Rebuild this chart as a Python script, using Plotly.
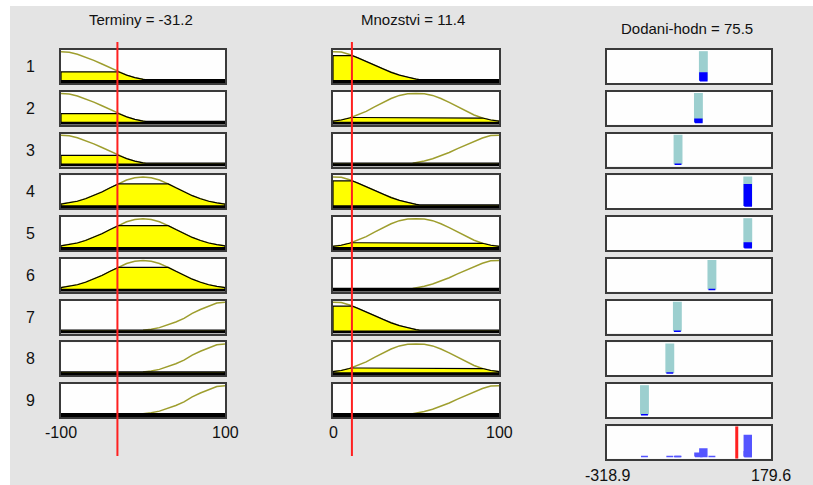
import plotly.graph_objects as go

W, H = 813, 485

# ---- inputs / output of the fuzzy inference system ----
TERMINY = -31.2
MNOZSTVI = 11.4
DODANI = 75.5
terminy_range = [-100, 100]
mnozstvi_range = [0, 100]
dodani_range = [-318.9, 179.6]

# membership functions of "Terminy" (low / medium / high)
terminy_low_x = [-100, -90, -80, -70, -60, -50, -40, -30, -20, -10, 0, 3]
terminy_low_y = [1.0, 0.98, 0.91, 0.81, 0.69, 0.56, 0.42, 0.28, 0.16, 0.07, 0.01, 0.0]
terminy_med_x = [-100, -90, -80, -70, -60, -50, -40, -30, -20, -10, 0,
                 10, 20, 30, 40, 50, 60, 70, 80, 90, 100]
terminy_med_y = [0.03, 0.07, 0.13, 0.22, 0.33, 0.46, 0.61, 0.76, 0.89, 0.97, 1.0,
                 0.97, 0.89, 0.76, 0.61, 0.46, 0.33, 0.22, 0.13, 0.07, 0.03]
terminy_high_x = [0, 10, 20, 30, 40, 50, 60, 70, 80, 90, 100]
terminy_high_y = [0.0, 0.03, 0.09, 0.19, 0.29, 0.42, 0.6, 0.74, 0.86, 0.97, 1.0]

# membership functions of "Mnozstvi" (low / medium / high)
mnozstvi_low_x = [0, 5, 10, 15, 20, 25, 30, 35, 40, 45, 50, 52]
mnozstvi_low_y = [1.0, 0.99, 0.9, 0.78, 0.65, 0.52, 0.38, 0.26, 0.16, 0.08, 0.02, 0.0]
mnozstvi_med_x = [0, 5, 10, 15, 20, 25, 30, 35, 40, 45, 50,
                  55, 60, 65, 70, 75, 80, 85, 90, 95, 100]
mnozstvi_med_y = [0.01, 0.05, 0.12, 0.23, 0.36, 0.52, 0.68, 0.82, 0.93, 0.99, 1.0,
                  0.99, 0.93, 0.82, 0.68, 0.52, 0.36, 0.23, 0.12, 0.05, 0.01]
mnozstvi_high_x = [48, 50, 55, 60, 65, 70, 75, 80, 85, 90, 95, 100]
mnozstvi_high_y = [0.0, 0.02, 0.08, 0.16, 0.26, 0.38, 0.52, 0.65, 0.78, 0.9, 0.99, 1.0]

# membership degree of the current input in each term
terminy_mu = [0.28, 0.75, 0.0]
mnozstvi_mu = [0.86, 0.14, 0.0]

# rules: (Terminy term, Mnozstvi term), output singleton, firing strength
rule_terms = [(0, 0), (0, 1), (0, 2), (1, 0), (1, 1), (1, 2), (2, 0), (2, 1), (2, 2)]
rule_output = [-26, -41, -103, 109, 109, 0, -105, -128, -205]
rule_firing = [0.26, 0.11, 0.0, 0.72, 0.16, 0.0, 0.0, 0.0, 0.0]
row_labels = ["1", "2", "3", "4", "5", "6", "7", "8", "9"]

terminy_mfs = [(terminy_low_x, terminy_low_y), (terminy_med_x, terminy_med_y),
               (terminy_high_x, terminy_high_y)]
mnozstvi_mfs = [(mnozstvi_low_x, mnozstvi_low_y), (mnozstvi_med_x, mnozstvi_med_y),
                (mnozstvi_high_x, mnozstvi_high_y)]

# ---- styling ----
BG = "#e4e4e4"
BOX = "#3a3a3a"
OLIVE = "#9e9e2e"
YELLOW = "#ffff00"
TEAL = "#9ccfcf"
BLUE = "#0000ff"
AGG_BLUE = "#5555ff"
RED = "#ff2020"
FONT = "Liberation Sans, Arial, sans-serif"

COL_X = [(61, 225), (333, 499), (607, 771)]
ROW_TOP0, ROW_STEP, ROW_H = 50, 41.75, 33
IN_YR = [-0.12, 1.06]
OUT_YR = [-0.08, 1.04]
BASE_Y = -0.066

fig = go.Figure()
layout = {}
axis_id = {}


def make_axes(n, col, top, bottom, xr, yr):
    xa = "xaxis" if n == 1 else f"xaxis{n}"
    ya = "yaxis" if n == 1 else f"yaxis{n}"
    xs = "x" if n == 1 else f"x{n}"
    ys = "y" if n == 1 else f"y{n}"
    common = dict(showgrid=False, zeroline=False, showticklabels=False, ticks="",
                  showline=True, mirror=True, linecolor=BOX, linewidth=1.6,
                  fixedrange=True)
    layout[xa] = dict(domain=[COL_X[col][0] / W, COL_X[col][1] / W], range=xr,
                      anchor=ys, **common)
    layout[ya] = dict(domain=[1 - bottom / H, 1 - top / H], range=yr,
                      anchor=xs, **common)
    return xs, ys


def clip_curve(xs, ys, level):
    px, py = [xs[0]], [min(ys[0], level)]
    for i in range(1, len(xs)):
        x0, y0, x1, y1 = xs[i - 1], ys[i - 1], xs[i], ys[i]
        if (y0 - level) * (y1 - level) < 0:
            t = (level - y0) / (y1 - y0)
            px.append(x0 + t * (x1 - x0))
            py.append(level)
        px.append(x1)
        py.append(min(y1, level))
    return px, py


def draw_input(xs_ref, ys_ref, mf, level, xr):
    mx, my = list(mf[0]), list(mf[1])
    # full-range version of the term (zero outside its support)
    fx, fy = mx[:], my[:]
    if fx[0] > xr[0]:
        fx, fy = [xr[0]] + fx, [0.0] + fy
    if fx[-1] < xr[1]:
        fx, fy = fx + [xr[1]], fy + [0.0]
    fig.add_trace(go.Scatter(x=mx, y=my, mode="lines", xaxis=xs_ref, yaxis=ys_ref,
                             line=dict(color=OLIVE, width=1.5), hoverinfo="skip"))
    px, py = clip_curve(fx, fy, level)
    px = px + [xr[1], xr[0], px[0]]
    py = py + [BASE_Y, BASE_Y, py[0]]
    fig.add_trace(go.Scatter(x=px, y=py, mode="lines", fill="toself", fillcolor=YELLOW,
                             xaxis=xs_ref, yaxis=ys_ref,
                             line=dict(color="black", width=1.2), hoverinfo="skip"))
    fig.add_trace(go.Scatter(x=xr, y=[BASE_Y, BASE_Y], mode="lines",
                             xaxis=xs_ref, yaxis=ys_ref,
                             line=dict(color="black", width=3), hoverinfo="skip"))


def rect(x0, x1, y0, y1):
    return [x0, x1, x1, x0, x0], [y0, y0, y1, y1, y0]


n = 0
for r, (t1, t2) in enumerate(rule_terms):
    top = ROW_TOP0 + r * ROW_STEP
    bottom = top + ROW_H
    n += 1
    xs, ys = make_axes(n, 0, top, bottom, terminy_range, IN_YR)
    axis_id[(r, 0)] = xs
    draw_input(xs, ys, terminy_mfs[t1], terminy_mu[t1], terminy_range)
for r, (t1, t2) in enumerate(rule_terms):
    top = ROW_TOP0 + r * ROW_STEP
    bottom = top + ROW_H
    n += 1
    xs, ys = make_axes(n, 1, top, bottom, mnozstvi_range, IN_YR)
    axis_id[(r, 1)] = xs
    draw_input(xs, ys, mnozstvi_mfs[t2], mnozstvi_mu[t2], mnozstvi_range)

TEAL_HALF, BLUE_HALF = 13.5, 10.5
for r in range(len(rule_terms)):
    top = ROW_TOP0 + r * ROW_STEP
    bottom = top + ROW_H
    n += 1
    xs, ys = make_axes(n, 2, top, bottom, dodani_range, OUT_YR)
    axis_id[(r, 2)] = xs
    p, w = rule_output[r], rule_firing[r]
    bx, by = rect(p - TEAL_HALF, p + TEAL_HALF, 0, 1)
    fig.add_trace(go.Scatter(x=bx, y=by, mode="lines", fill="toself", fillcolor=TEAL,
                             xaxis=xs, yaxis=ys, line=dict(width=0, color=TEAL),
                             hoverinfo="skip"))
    bx, by = rect(p - BLUE_HALF, p + BLUE_HALF, 0, w)
    fig.add_trace(go.Scatter(x=bx, y=by, mode="lines", fill="toself", fillcolor=BLUE,
                             xaxis=xs, yaxis=ys, line=dict(width=1.5, color=BLUE),
                             hoverinfo="skip"))

# aggregated output
agg_top = ROW_TOP0 + 9 * ROW_STEP + 0.5
n += 1
xs_agg, ys_agg = make_axes(n, 2, agg_top, agg_top + 32.5, dodani_range, OUT_YR)
for p, w in zip(rule_output, rule_firing):
    bx, by = rect(p - BLUE_HALF, p + BLUE_HALF, 0, w)
    fig.add_trace(go.Scatter(x=bx, y=by, mode="lines", fill="toself", fillcolor=AGG_BLUE,
                             xaxis=xs_agg, yaxis=ys_agg,
                             line=dict(width=1.5, color=AGG_BLUE), hoverinfo="skip"))
fig.add_trace(go.Scatter(x=[DODANI, DODANI], y=OUT_YR, mode="lines",
                         xaxis=xs_agg, yaxis=ys_agg,
                         line=dict(color=RED, width=3), hoverinfo="skip"))

# input cursor lines running through all rules
shapes = [
    dict(type="rect", xref="paper", yref="paper", x0=0, x1=1, y0=1 - 6 / H, y1=1,
         fillcolor="white", line=dict(width=0), layer="below"),
    dict(type="rect", xref="paper", yref="paper", x0=0, x1=10 / W, y0=0, y1=1,
         fillcolor="white", line=dict(width=0), layer="below"),
]
for col, val in ((0, TERMINY), (1, MNOZSTVI)):
    shapes.append(dict(type="line", xref=axis_id[(0, col)], yref="paper",
                       x0=val, x1=val, y0=1 - 456 / H, y1=1 - 42 / H,
                       line=dict(color=RED, width=2), layer="above"))

annotations = []


def label(text, x, y, xref="paper", size=16):
    annotations.append(dict(text=text, x=x, y=y, xref=xref, yref="paper",
                            xanchor="center", yanchor="middle", showarrow=False,
                            font=dict(family=FONT, size=size, color="#111111")))


label(f"Terminy = {TERMINY}", 141 / W, 1 - 20 / H, size=15)
label(f"Mnozstvi = {MNOZSTVI}", 413 / W, 1 - 20 / H, size=15)
label(f"Dodani-hodn = {DODANI}", 687 / W, 1 - 28 / H, size=15)
for r, t in enumerate(row_labels):
    label(t, 31 / W, 1 - (ROW_TOP0 + r * ROW_STEP + ROW_H / 2) / H)

label("-100", terminy_range[0], 1 - 432 / H, axis_id[(8, 0)])
label("100", terminy_range[1], 1 - 432 / H, axis_id[(8, 0)])
label("0", mnozstvi_range[0], 1 - 432 / H, axis_id[(8, 1)])
label("100", mnozstvi_range[1], 1 - 432 / H, axis_id[(8, 1)])
label(f"{dodani_range[0]}", dodani_range[0], 1 - 475 / H, xs_agg)
label(f"{dodani_range[1]}", dodani_range[1], 1 - 475 / H, xs_agg)

fig.update_layout(
    width=W, height=H, margin=dict(l=0, r=0, t=0, b=0),
    paper_bgcolor=BG, plot_bgcolor="#fefefe", showlegend=False,
    shapes=shapes, annotations=annotations, **layout,
)

fig.write_html("out.html")
